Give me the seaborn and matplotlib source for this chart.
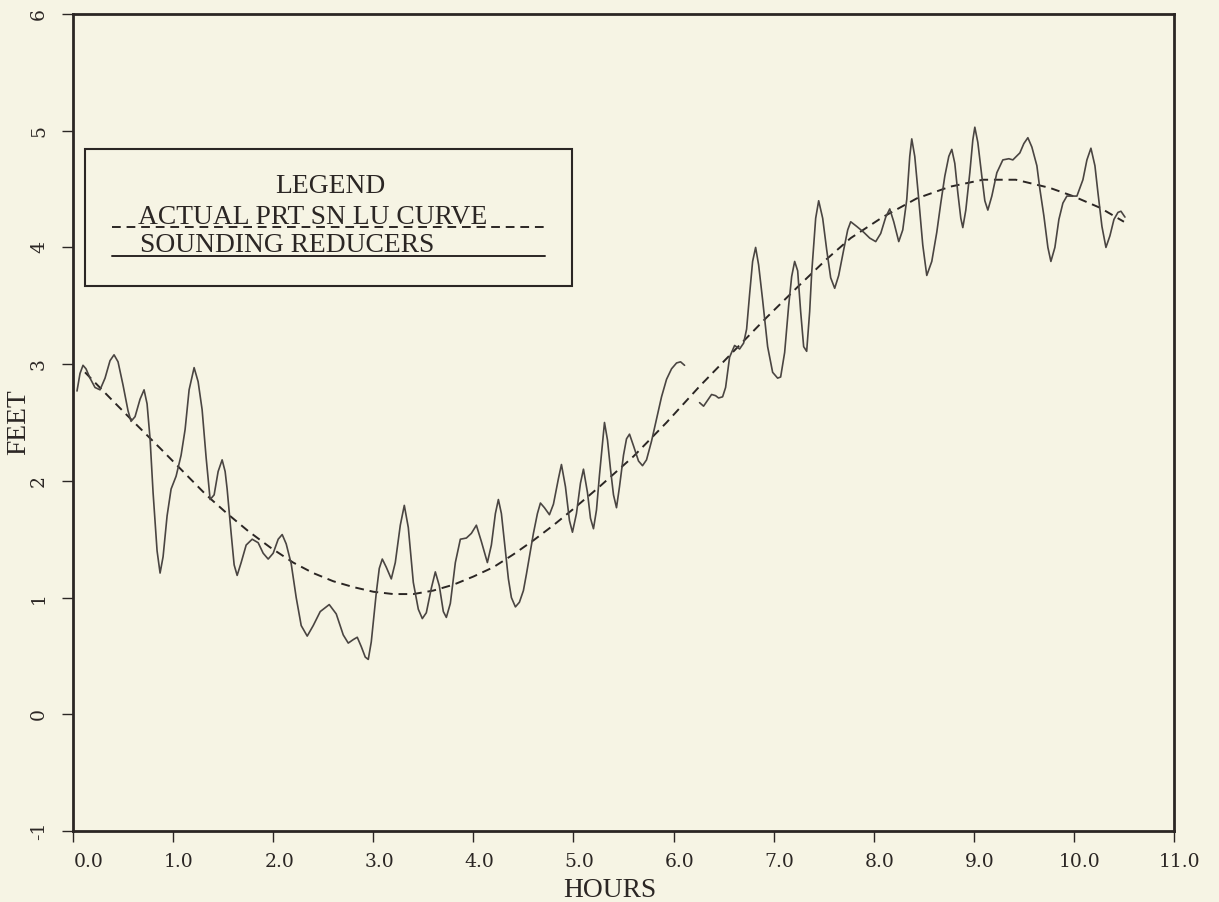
import numpy as np
import pandas as pd
import matplotlib
matplotlib.use("Agg")
import matplotlib.pyplot as plt
import matplotlib.transforms as mtransforms
from matplotlib.patches import Rectangle
from matplotlib.lines import Line2D
import seaborn as sns

# Predicted tide curve (actual port sounding curve), hours vs feet
pred_hours = [0.12, 0.37, 0.60, 0.87, 1.10, 1.33, 1.54, 1.75, 1.97, 2.20, 2.40,
              2.60, 2.80, 3.00, 3.20, 3.40, 3.60, 3.80, 4.00, 4.20, 4.40, 4.60,
              4.80, 5.00, 5.26, 5.60, 5.93, 6.26, 6.60, 6.93, 7.25, 7.53, 7.77,
              8.09, 8.43, 8.76, 9.09, 9.42, 9.76, 9.99, 10.26, 10.50]
pred_feet = [2.93, 2.71, 2.51, 2.28, 2.08, 1.88, 1.72, 1.57, 1.43, 1.30, 1.21,
             1.14, 1.09, 1.05, 1.03, 1.03, 1.06, 1.11, 1.18, 1.26, 1.37, 1.49,
             1.62, 1.76, 1.95, 2.21, 2.50, 2.81, 3.11, 3.40, 3.67, 3.90, 4.08,
             4.26, 4.42, 4.52, 4.58, 4.58, 4.51, 4.44, 4.34, 4.22]

# Sounding reducers, first recorded segment
obs_hours_a = [0.04, 0.07, 0.10, 0.13, 0.17, 0.22, 0.27, 0.32, 0.37, 0.41, 0.45,
               0.50, 0.55, 0.58, 0.62, 0.67, 0.71, 0.74, 0.77, 0.80, 0.84, 0.87,
               0.90, 0.94, 0.98, 1.03, 1.08, 1.12, 1.16, 1.21, 1.25, 1.29, 1.33,
               1.37, 1.41, 1.45, 1.49, 1.52, 1.54, 1.58, 1.61, 1.64, 1.68, 1.73,
               1.79, 1.85, 1.90, 1.95, 2.00, 2.05, 2.09, 2.13, 2.18, 2.23, 2.28,
               2.34, 2.40, 2.47, 2.56, 2.63, 2.70, 2.75, 2.80, 2.84, 2.88, 2.92,
               2.95, 2.98, 3.03, 3.06, 3.09, 3.13, 3.18, 3.22, 3.27, 3.31, 3.35,
               3.40, 3.45, 3.49, 3.53, 3.58, 3.62, 3.66, 3.70, 3.73, 3.77, 3.82,
               3.87, 3.93, 3.98, 4.03, 4.08, 4.14, 4.18, 4.22, 4.25, 4.28, 4.32,
               4.35, 4.38, 4.42, 4.46, 4.50, 4.53, 4.57, 4.60, 4.64, 4.67, 4.71,
               4.76, 4.80, 4.85, 4.88, 4.92, 4.96, 4.99, 5.03, 5.07, 5.10, 5.14,
               5.17, 5.20, 5.23, 5.26, 5.31, 5.34, 5.37, 5.40, 5.43, 5.46, 5.50,
               5.53, 5.56, 5.60, 5.65, 5.69, 5.73, 5.78, 5.83, 5.88, 5.93, 5.98,
               6.03, 6.07, 6.11]
obs_feet_a = [2.77, 2.92, 2.99, 2.96, 2.88, 2.80, 2.78, 2.88, 3.03, 3.08, 3.02,
              2.82, 2.60, 2.51, 2.55, 2.70, 2.78, 2.66, 2.36, 1.90, 1.40, 1.21,
              1.35, 1.70, 1.93, 2.04, 2.22, 2.44, 2.78, 2.97, 2.85, 2.61, 2.20,
              1.84, 1.88, 2.08, 2.18, 2.08, 1.93, 1.55, 1.28, 1.19, 1.30, 1.45,
              1.50, 1.47, 1.38, 1.33, 1.38, 1.50, 1.54, 1.46, 1.29, 1.00, 0.76,
              0.67, 0.76, 0.88, 0.94, 0.86, 0.68, 0.61, 0.64, 0.66, 0.58, 0.49,
              0.47, 0.62, 1.04, 1.25, 1.33, 1.26, 1.16, 1.30, 1.62, 1.79, 1.60,
              1.13, 0.90, 0.82, 0.87, 1.08, 1.22, 1.10, 0.88, 0.83, 0.95, 1.30,
              1.50, 1.51, 1.55, 1.62, 1.48, 1.30, 1.45, 1.72, 1.84, 1.72, 1.40,
              1.16, 1.00, 0.92, 0.96, 1.06, 1.20, 1.40, 1.55, 1.72, 1.81, 1.77,
              1.71, 1.80, 2.02, 2.14, 1.95, 1.66, 1.56, 1.72, 1.98, 2.10, 1.90,
              1.68, 1.59, 1.75, 2.05, 2.50, 2.35, 2.10, 1.88, 1.77, 1.95, 2.22,
              2.36, 2.40, 2.30, 2.17, 2.13, 2.18, 2.34, 2.53, 2.72, 2.87, 2.96,
              3.01, 3.02, 2.99]

# Sounding reducers, second recorded segment
obs_hours_b = [6.26, 6.30, 6.34, 6.38, 6.42, 6.45, 6.49, 6.52, 6.56, 6.61, 6.66,
               6.70, 6.73, 6.76, 6.79, 6.82, 6.85, 6.89, 6.94, 6.99, 7.04, 7.07,
               7.11, 7.15, 7.18, 7.21, 7.24, 7.27, 7.30, 7.33, 7.36, 7.38, 7.42,
               7.45, 7.49, 7.53, 7.57, 7.61, 7.65, 7.70, 7.74, 7.77, 7.83, 7.90,
               7.96, 8.02, 8.07, 8.12, 8.16, 8.20, 8.25, 8.29, 8.33, 8.36, 8.38,
               8.41, 8.45, 8.49, 8.53, 8.58, 8.63, 8.67, 8.71, 8.75, 8.78, 8.81,
               8.84, 8.87, 8.89, 8.92, 8.96, 8.99, 9.01, 9.04, 9.08, 9.11, 9.14,
               9.18, 9.23, 9.29, 9.35, 9.39, 9.46, 9.50, 9.54, 9.58, 9.63, 9.66,
               9.70, 9.74, 9.77, 9.81, 9.85, 9.89, 9.93, 9.98, 10.03, 10.09, 10.13,
               10.17, 10.21, 10.24, 10.28, 10.32, 10.36, 10.40, 10.44, 10.47, 10.51]
obs_feet_b = [2.67, 2.64, 2.69, 2.74, 2.73, 2.71, 2.72, 2.80, 3.06, 3.16, 3.13,
              3.18, 3.30, 3.60, 3.88, 4.00, 3.85, 3.55, 3.15, 2.93, 2.88, 2.89,
              3.10, 3.50, 3.75, 3.88, 3.80, 3.45, 3.15, 3.11, 3.45, 3.78, 4.25,
              4.40, 4.25, 3.98, 3.74, 3.65, 3.76, 3.98, 4.15, 4.22, 4.18, 4.13,
              4.08, 4.05, 4.12, 4.26, 4.33, 4.22, 4.05, 4.15, 4.41, 4.78, 4.93,
              4.78, 4.41, 4.02, 3.76, 3.88, 4.13, 4.38, 4.61, 4.78, 4.84, 4.72,
              4.47, 4.25, 4.17, 4.32, 4.64, 4.92, 5.03, 4.90, 4.61, 4.40, 4.32,
              4.44, 4.64, 4.75, 4.76, 4.75, 4.81, 4.89, 4.94, 4.86, 4.70, 4.50,
              4.27, 4.00, 3.88, 4.00, 4.24, 4.38, 4.44, 4.44, 4.44, 4.58, 4.75,
              4.85, 4.70, 4.47, 4.18, 4.00, 4.10, 4.24, 4.30, 4.31, 4.26]

x_ticks = [0, 1, 2, 3, 4, 5, 6, 7, 8, 9, 10, 11]
x_tick_labels = ["0.0", "1.0", "2.0", "3.0", "4.0", "5.0", "6.0", "7.0",
                 "8.0", "9.0", "10.0", "11.0"]
y_ticks = [-1, 0, 1, 2, 3, 4, 5, 6]
y_tick_labels = ["-1", "0", "1", "2", "3", "4", "5", "6"]

legend_title = "LEGEND"
legend_labels = ["ACTUAL PRT SN LU CURVE", "SOUNDING REDUCERS"]

paper = "#f6f4e4"
ink = "#2b2624"
curve_ink = "#4a4542"
text_font = ["Liberation Serif", "DejaVu Serif"]
tick_font = ["DejaVu Serif"]
dash_pattern = (0, (4.5, 3.0))

sns.set_theme(style="ticks")
plt.rcParams["font.family"] = text_font
plt.rcParams["axes.unicode_minus"] = False

pred_df = pd.DataFrame({"hours": pred_hours, "feet": pred_feet})
obs_df = pd.concat([
    pd.DataFrame({"hours": obs_hours_a, "feet": obs_feet_a, "segment": 0}),
    pd.DataFrame({"hours": obs_hours_b, "feet": obs_feet_b, "segment": 1}),
], ignore_index=True)

fig = plt.figure(figsize=(12.19, 9.02), dpi=100, facecolor=paper)
ax = fig.add_axes([73 / 1219, 1 - 831 / 902, 1101 / 1219, 817 / 902])
ax.set_facecolor(paper)

sns.lineplot(data=pred_df, x="hours", y="feet", ax=ax, color=ink,
             linewidth=1.4, linestyle=dash_pattern, legend=False)
sns.lineplot(data=obs_df, x="hours", y="feet", units="segment",
             estimator=None, ax=ax, color=curve_ink, linewidth=1.2,
             legend=False)

ax.set_xlim(0, 11)
ax.set_ylim(-1, 6)
ax.set_xticks(x_ticks)
ax.set_xticklabels(x_tick_labels, fontfamily=tick_font, fontsize=13.5,
                   color=ink)
ax.set_yticks(y_ticks)
ax.set_yticklabels(y_tick_labels, fontfamily=tick_font, fontsize=13.5,
                   color=ink, rotation=90, va="center")
ax.tick_params(axis="x", direction="out", length=8, width=1.0, color=ink,
               pad=8)
ax.tick_params(axis="y", direction="out", length=8, width=1.0, color=ink,
               pad=10)

for i, lab in enumerate(ax.get_xticklabels()):
    dx = 16 if i == 0 else 6
    lab.set_transform(lab.get_transform() +
                      mtransforms.ScaledTranslation(dx / 100, 0,
                                                    fig.dpi_scale_trans))

for side in ["left", "right", "top", "bottom"]:
    ax.spines[side].set_visible(True)
    ax.spines[side].set_color(ink)
    ax.spines[side].set_linewidth(2.0)

ax.set_xlabel("HOURS", fontsize=19.8, color=ink)
ax.xaxis.label.set_va("baseline")
ax.xaxis.set_label_coords(0.488, -0.0805)
ax.set_ylabel("FEET", fontsize=19.8, color=ink)
ax.yaxis.label.set_va("center")
ax.yaxis.label.set_ha("center")
ax.yaxis.set_label_coords(-0.049, 0.5)

# Legend box drawn in axes coordinates
ax.add_patch(Rectangle((0.0109, 0.6671), 0.4423, 0.1677,
                       transform=ax.transAxes, fill=False, edgecolor=ink,
                       linewidth=1.5, zorder=5))
ax.text(0.2334, 0.7891, legend_title, transform=ax.transAxes,
        ha="center", va="center", fontsize=19.8, color=ink, zorder=6)
ax.add_line(Line2D([0.0354, 0.4287], [0.7389, 0.7389],
                   transform=ax.transAxes, color=ink, linewidth=1.4,
                   linestyle=dash_pattern, zorder=6))
ax.text(0.059, 0.7430, legend_labels[0], transform=ax.transAxes,
        ha="left", va="baseline", fontsize=19.8, color=ink, zorder=6)
ax.add_line(Line2D([0.0354, 0.4287], [0.7044, 0.7044],
                   transform=ax.transAxes, color=ink, linewidth=1.4,
                   zorder=6))
ax.text(0.061, 0.7087, legend_labels[1], transform=ax.transAxes,
        ha="left", va="baseline", fontsize=19.8, color=ink, zorder=6)

fig.savefig("out.png", dpi=100, facecolor=paper)
